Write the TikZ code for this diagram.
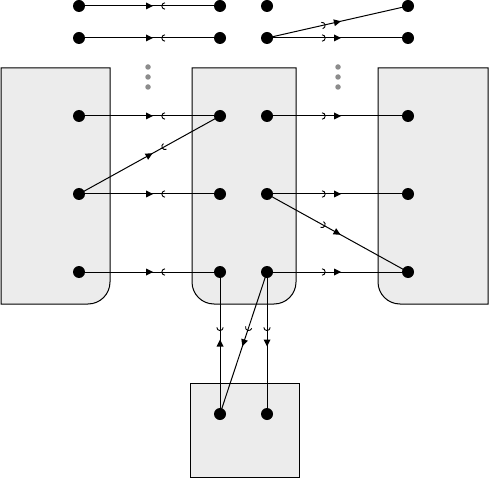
\documentclass[tikz,border=0pt]{standalone}
\usetikzlibrary{decorations.markings,backgrounds}
\definecolor{boxgray}{RGB}{236,236,236}
\definecolor{dotgray}{RGB}{140,140,140}
\begin{document}
\begin{tikzpicture}[x=1pt,y=-1pt,
  dot/.style={circle,fill=black,inner sep=0pt,minimum size=12pt},
  gdot/.style={circle,fill=dotgray,inner sep=0pt,minimum size=5.5pt},
  boxshape/.style={draw=black,fill=boxgray,line width=1pt},
  wire/.style={line width=1pt},
  toout/.style={wire,postaction={decorate},decoration={markings,
    mark=at position 0.39 with {\draw[line width=0.9pt] (0,-3.2pt) arc[start angle=-90,end angle=90,radius=3.2pt];},
    mark=at position 0.5 with {\fill (3.5pt,0) -- (-3.5pt,3.5pt) -- (-3.5pt,-3.5pt) -- cycle;}}},
  tomid/.style={wire,postaction={decorate},decoration={markings,
    mark=at position 0.39 with {\draw[line width=0.9pt] (0,-3.2pt) arc[start angle=-90,end angle=90,radius=3.2pt];},
    mark=at position 0.5 with {\fill (-3.5pt,0) -- (3.5pt,3.5pt) -- (3.5pt,-3.5pt) -- cycle;}}}]
\useasboundingbox (0,0) rectangle (489,478);
% dots
\foreach \i/\y in {0/6,1/38,2/116,3/194,4/272}{
  \node[dot] (l\i) at (79,\y) {};
  \node[dot] (m\i) at (220,\y) {};
  \node[dot] (n\i) at (267,\y) {};
  \node[dot] (r\i) at (408,\y) {};
}
\node[dot] (b1) at (220,414) {};
\node[dot] (b2) at (267,414) {};
\foreach \x/\k in {148/a,338/b}{
  \node[gdot] (g\k1) at (\x,67) {};
  \node[gdot] (g\k2) at (\x,77) {};
  \node[gdot] (g\k3) at (\x,87) {};
}
% boxes
\begin{scope}[on background layer]
\draw[boxshape] (1,68) -- (110,68) -- (110,282) arc[start angle=0,end angle=90,radius=22] -- (1,304) -- cycle;
\draw[boxshape] (192,68) -- (296,68) -- (296,282) arc[start angle=0,end angle=90,radius=22] -- (214,304) arc[start angle=90,end angle=180,radius=22] -- cycle;
\draw[boxshape] (378,68) -- (488,68) -- (488,304) -- (400,304) arc[start angle=90,end angle=180,radius=22] -- cycle;
\draw[boxshape] (190,383) rectangle (299,477);
\end{scope}
% wires
\draw[tomid] (m0.center) -- (l0.center);
\draw[tomid] (m1.center) -- (l1.center);
\draw[toout] (n1.center) -- (r0.center);
\draw[toout] (n1.center) -- (r1.center);
\draw[tomid] (m2.center) -- (l2.center);
\draw[tomid] (m2.center) -- (l3.center);
\draw[toout] (n2.center) -- (r2.center);
\draw[tomid] (m3.center) -- (l3.center);
\draw[toout] (n3.center) -- (r3.center);
\draw[toout] (n3.center) -- (r4.center);
\draw[tomid] (m4.center) -- (l4.center);
\draw[toout] (n4.center) -- (r4.center);
\draw[tomid] (m4.center) -- (b1.center);
\draw[toout] (n4.center) -- (b1.center);
\draw[toout] (n4.center) -- (b2.center);
\end{tikzpicture}
\end{document}
